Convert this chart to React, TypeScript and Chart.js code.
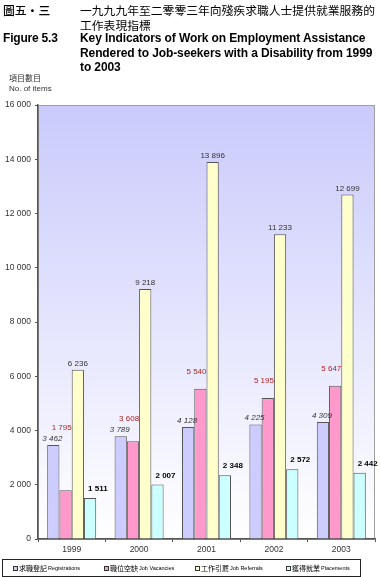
import React, { useEffect, useRef } from "react";
import { Chart, registerables } from "chart.js";

Chart.register(...registerables);

const years = ["1999", "2000", "2001", "2002", "2003"];
const registrations = [3462, 3789, 4128, 4225, 4309];
const vacancies = [1795, 3608, 5540, 5195, 5647];
const referrals = [6236, 9218, 13896, 11233, 12699];
const placements = [1511, 2007, 2348, 2572, 2442];
const seriesZh = ["求職登記", "職位空缺", "工作引薦", "獲得就業"];
const seriesEn = ["Registrations", "Job Vacancies", "Job Referrals", "Placements"];
const yTicks = [0, 2000, 4000, 6000, 8000, 10000, 12000, 14000, 16000];

const colors = ["#CCCCFF", "#FF99CC", "#FFFFCC", "#CCFFFF"];

const fmt = (v: number) => {
  const s = String(Math.round(v));
  return s.replace(/\B(?=(\d{3})+(?!\d))/g, " ");
};

const SANS = '"Liberation Sans", Arial, sans-serif';
const CJK = '"Noto Sans CJK TC", sans-serif';

const bgPlugin = {
  id: "bgPlugin",
  beforeDraw(chart: any) {
    const { ctx, chartArea: a } = chart;
    ctx.save();
    ctx.fillStyle = "#ffffff";
    ctx.fillRect(0, 0, chart.width, chart.height);
    const g = ctx.createLinearGradient(0, a.top, 0, a.bottom);
    g.addColorStop(0, "#CACAFC");
    g.addColorStop(1, "#FFFFFF");
    ctx.fillStyle = g;
    ctx.fillRect(a.left, a.top, a.right - a.left, a.bottom - a.top);
    ctx.strokeStyle = "#A0A0A0";
    ctx.lineWidth = 1;
    ctx.strokeRect(a.left + 0.5, a.top + 0.5, a.right - a.left - 1, a.bottom - a.top);
    ctx.restore();
  },
};

const labelPlugin = {
  id: "labelPlugin",
  afterDatasetsDraw(chart: any) {
    const ctx = chart.ctx;
    const regMeta = chart.getDatasetMeta(0);
    ctx.save();
    chart.data.datasets.forEach((ds: any, di: number) => {
      const meta = chart.getDatasetMeta(di);
      meta.data.forEach((bar: any, i: number) => {
        const v = ds.data[i];
        const txt = fmt(v);
        const half = bar.width / 2;
        ctx.textBaseline = "alphabetic";
        if (di === 0) {
          ctx.font = `italic 8px ${SANS}`;
          ctx.fillStyle = "#333333";
          ctx.textAlign = "center";
          ctx.fillText(txt, bar.x - 1, bar.y - 4);
        } else if (di === 1) {
          ctx.font = `8px ${SANS}`;
          ctx.fillStyle = "#B22222";
          ctx.textAlign = "right";
          const top = Math.min(bar.y, regMeta.data[i].y);
          ctx.fillText(txt, bar.x + half, top - 15);
        } else if (di === 2) {
          ctx.font = `8px ${SANS}`;
          ctx.fillStyle = "#333333";
          ctx.textAlign = "center";
          ctx.fillText(txt, bar.x, bar.y - 4);
        } else {
          ctx.font = `bold 8px ${SANS}`;
          ctx.fillStyle = "#000000";
          ctx.textAlign = "left";
          ctx.fillText(txt, bar.x - 2, bar.y - 7);
        }
      });
    });
    ctx.restore();
  },
};

const legendPlugin = {
  id: "legendPlugin",
  afterDraw(chart: any) {
    const ctx = chart.ctx;
    const left = 2;
    const top = chart.chartArea.bottom + 20;
    const w = 358;
    const h = 17;
    ctx.save();
    ctx.strokeStyle = "#222222";
    ctx.lineWidth = 1;
    ctx.strokeRect(left + 0.5, top + 0.5, w, h);
    const itemW = 91;
    chart.data.datasets.forEach((ds: any, i: number) => {
      const x = left + 11 + i * itemW;
      const cy = top + h / 2 + 0.5;
      ctx.fillStyle = ds.backgroundColor;
      ctx.fillRect(x, cy - 2, 4, 4);
      ctx.strokeStyle = "#333333";
      ctx.strokeRect(x + 0.5, cy - 2 + 0.5, 4, 4);
      ctx.fillStyle = "#000000";
      ctx.textBaseline = "middle";
      ctx.textAlign = "left";
      ctx.font = `7px ${CJK}`;
      const zh = seriesZh[i];
      ctx.fillText(zh, x + 6, cy);
      const zw = ctx.measureText(zh).width;
      ctx.font = `5.5px ${SANS}`;
      ctx.fillText(seriesEn[i], x + 7 + zw, cy + 0.5);
    });
    ctx.restore();
  },
};

export default function App() {
  const ref = useRef<HTMLCanvasElement>(null);
  useEffect(() => {
    document.body.style.margin = "0";
    const chart = new Chart(ref.current!, {
      type: "bar",
      data: {
        labels: years,
        datasets: [registrations, vacancies, referrals, placements].map((d, i) => ({
          label: seriesEn[i],
          data: d,
          backgroundColor: colors[i],
          borderColor: "#555555",
          borderWidth: 1,
          categoryPercentage: 0.727,
          barPercentage: 1.0,
        })),
      },
      options: {
        animation: false,
        responsive: false,
        devicePixelRatio: 1,
        layout: { padding: { top: 105, right: 5, bottom: 22, left: 0 } },
        plugins: { legend: { display: false }, tooltip: { enabled: false } },
        scales: {
          x: {
            grid: { display: true, drawOnChartArea: false, drawTicks: true, tickLength: 3, color: "#555555", offset: true },
            border: { display: true, color: "#555555", width: 1.5 },
            ticks: { color: "#333333", font: { family: SANS, size: 8.5 }, padding: 3 },
            afterFit(s: any) {
              s.height = 16;
            },
          },
          y: {
            min: 0,
            max: 16000,
            afterBuildTicks(s: any) {
              s.ticks = yTicks.map((v) => ({ value: v }));
            },
            grid: { display: true, drawOnChartArea: false, drawTicks: true, tickLength: 3, color: "#555555" },
            border: { display: true, color: "#555555", width: 1.5 },
            ticks: {
              color: "#333333",
              font: { family: SANS, size: 8.5 },
              padding: 4,
              callback: (v: any) => fmt(Number(v)),
            },
            afterFit(s: any) {
              s.width = 38;
            },
          },
        },
      },
      plugins: [bgPlugin, labelPlugin, legendPlugin],
    });
    return () => chart.destroy();
  }, []);

  const abs = (x: number, y: number): React.CSSProperties => ({ position: "absolute", left: x, top: y, whiteSpace: "nowrap" });

  return (
    <div style={{ position: "absolute", left: 0, top: 0, width: 380, height: 577, background: "#fff", overflow: "hidden" }}>
      <canvas ref={ref} width={380} height={577} style={{ position: "absolute", left: 0, top: 0, width: 380, height: 577 }} />
      <div style={{ ...abs(3, 2), font: `500 11.8px ${CJK}`, lineHeight: "15px" }}>圖五・三</div>
      <div style={{ ...abs(80, 2), font: `11.8px ${CJK}`, lineHeight: "15px" }}>
        一九九九年至二零零三年向殘疾求職人士提供就業服務的
        <br />
        工作表現指標
      </div>
      <div style={{ ...abs(3, 31), font: `bold 12px ${SANS}`, lineHeight: "14.5px", letterSpacing: "-0.2px" }}>Figure 5.3</div>
      <div style={{ ...abs(80, 31), font: `bold 12px ${SANS}`, lineHeight: "14.5px", letterSpacing: "-0.1px" }}>
        Key Indicators of Work on Employment Assistance
        <br />
        Rendered to Job-seekers with a Disability from 1999
        <br />
        to 2003
      </div>
      <div style={{ ...abs(9, 73), font: `8px ${CJK}`, lineHeight: "10px", color: "#333" }}>項目數目</div>
      <div style={{ ...abs(9, 84), font: `8px ${SANS}`, lineHeight: "10px", color: "#333" }}>No. of items</div>
    </div>
  );
}
